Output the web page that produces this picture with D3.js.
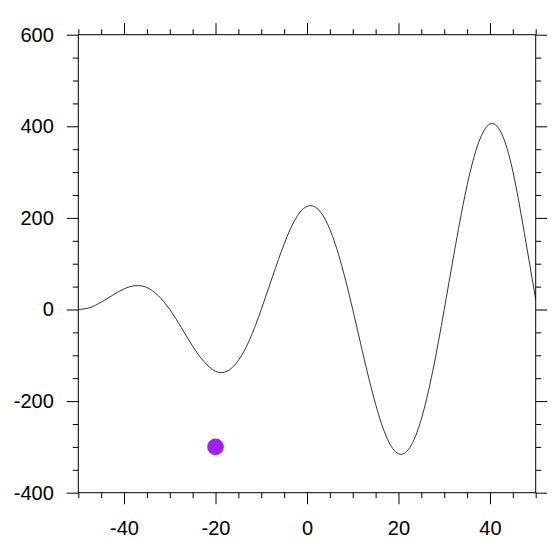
<!DOCTYPE html>
<html>
<head>
<meta charset="utf-8">
<script src="https://cdn.jsdelivr.net/npm/d3@7"></script>
<style>
  body { margin: 0; background: #fff; }
  svg { display: block; }
  .tick text { font-family: "Liberation Sans", Arial, Helvetica, sans-serif; font-size: 20px; fill: #000; }
</style>
</head>
<body>
<div id="chart"></div>
<script>
// curve values (x step 2.5)
var xValues = [-50, -47.5, -45, -42.5, -40, -37.5, -35, -32.5, -30, -27.5, -25, -22.5, -20, -17.5, -15, -12.5, -10,
  -7.5, -5, -2.5, 0, 2.5, 5, 7.5, 10, 12.5, 15, 17.5, 20, 22.5, 25, 27.5, 30, 32.5, 35, 37.5, 40, 42.5, 45, 47.5, 50];
var yValues = [0, 4, 16, 31, 45, 52, 48, 30, 0, -39, -80, -114, -135, -135, -111, -65, 0,
  73, 143, 198, 225, 218, 175, 99, 0, -108, -207, -281, -315, -301, -239, -134, 0, 142, 271, 364, 405, 385, 302, 168, 22];

// single marker
var markerX = [-20];
var markerY = [-300];

var xDomain = [-50, 50];
var yDomain = [-400, 600];
var xMajor = [-40, -20, 0, 20, 40];
var yMajor = [-400, -200, 0, 200, 400, 600];

var W = 559, H = 559;
var plotLeft = 78.3, plotRight = 535.7, plotTop = 34.7, plotBottom = 492.7;
var MAJOR = 11.5, MINOR = 5.5;

var svg = d3.select("#chart").append("svg")
  .attr("width", W)
  .attr("height", H);

var x = d3.scaleLinear().domain(xDomain).range([plotLeft, plotRight]);
var y = d3.scaleLinear().domain(yDomain).range([plotBottom, plotTop]);

var xMinor = d3.range(-50, 50.01, 5).filter(function(v) { return xMajor.indexOf(v) === -1; });
var yMinor = d3.range(-400, 600.01, 50).filter(function(v) { return yMajor.indexOf(v) === -1; });

// plain hyphen minus like the reference
var fmt = function(v) { return String(v); };

function styleAxis(g) {
  g.select(".domain").remove();
  g.selectAll(".tick line").attr("stroke", "#000").attr("stroke-width", 1);
}

// bottom
svg.append("g").attr("transform", "translate(0," + plotBottom + ")")
  .call(d3.axisBottom(x).tickValues(xMajor).tickSize(MAJOR).tickPadding(17).tickFormat(fmt))
  .call(styleAxis);
svg.append("g").attr("transform", "translate(0," + plotBottom + ")")
  .call(d3.axisBottom(x).tickValues(xMinor).tickSize(MINOR).tickFormat(""))
  .call(styleAxis);
// top
svg.append("g").attr("transform", "translate(0," + plotTop + ")")
  .call(d3.axisTop(x).tickValues(xMajor).tickSize(MAJOR).tickFormat(""))
  .call(styleAxis);
svg.append("g").attr("transform", "translate(0," + plotTop + ")")
  .call(d3.axisTop(x).tickValues(xMinor).tickSize(MINOR).tickFormat(""))
  .call(styleAxis);
// left
svg.append("g").attr("transform", "translate(" + plotLeft + ",0)")
  .call(d3.axisLeft(y).tickValues(yMajor).tickSize(MAJOR).tickPadding(13).tickFormat(fmt))
  .call(styleAxis);
svg.append("g").attr("transform", "translate(" + plotLeft + ",0)")
  .call(d3.axisLeft(y).tickValues(yMinor).tickSize(MINOR).tickFormat(""))
  .call(styleAxis);
// right
svg.append("g").attr("transform", "translate(" + plotRight + ",0)")
  .call(d3.axisRight(y).tickValues(yMajor).tickSize(MAJOR).tickFormat(""))
  .call(styleAxis);
svg.append("g").attr("transform", "translate(" + plotRight + ",0)")
  .call(d3.axisRight(y).tickValues(yMinor).tickSize(MINOR).tickFormat(""))
  .call(styleAxis);

// frame
svg.append("rect")
  .attr("x", plotLeft).attr("y", plotTop)
  .attr("width", plotRight - plotLeft).attr("height", plotBottom - plotTop)
  .attr("fill", "none")
  .attr("stroke", "#000")
  .attr("stroke-width", 1);

var points = xValues.map(function(v, i) { return [v, yValues[i]]; });

var line = d3.line()
  .x(function(d) { return x(d[0]); })
  .y(function(d) { return y(d[1]); })
  .curve(d3.curveNatural);

svg.append("path")
  .datum(points)
  .attr("d", line)
  .attr("fill", "none")
  .attr("stroke", "#000")
  .attr("stroke-width", 0.8);

svg.append("g")
  .selectAll("circle")
  .data(markerX.map(function(v, i) { return [v, markerY[i]]; }))
  .enter()
  .append("circle")
  .attr("cx", function(d) { return x(d[0]); })
  .attr("cy", function(d) { return y(d[1]); })
  .attr("r", 8.3)
  .attr("fill", "#a020f0");
</script>
</body>
</html>
